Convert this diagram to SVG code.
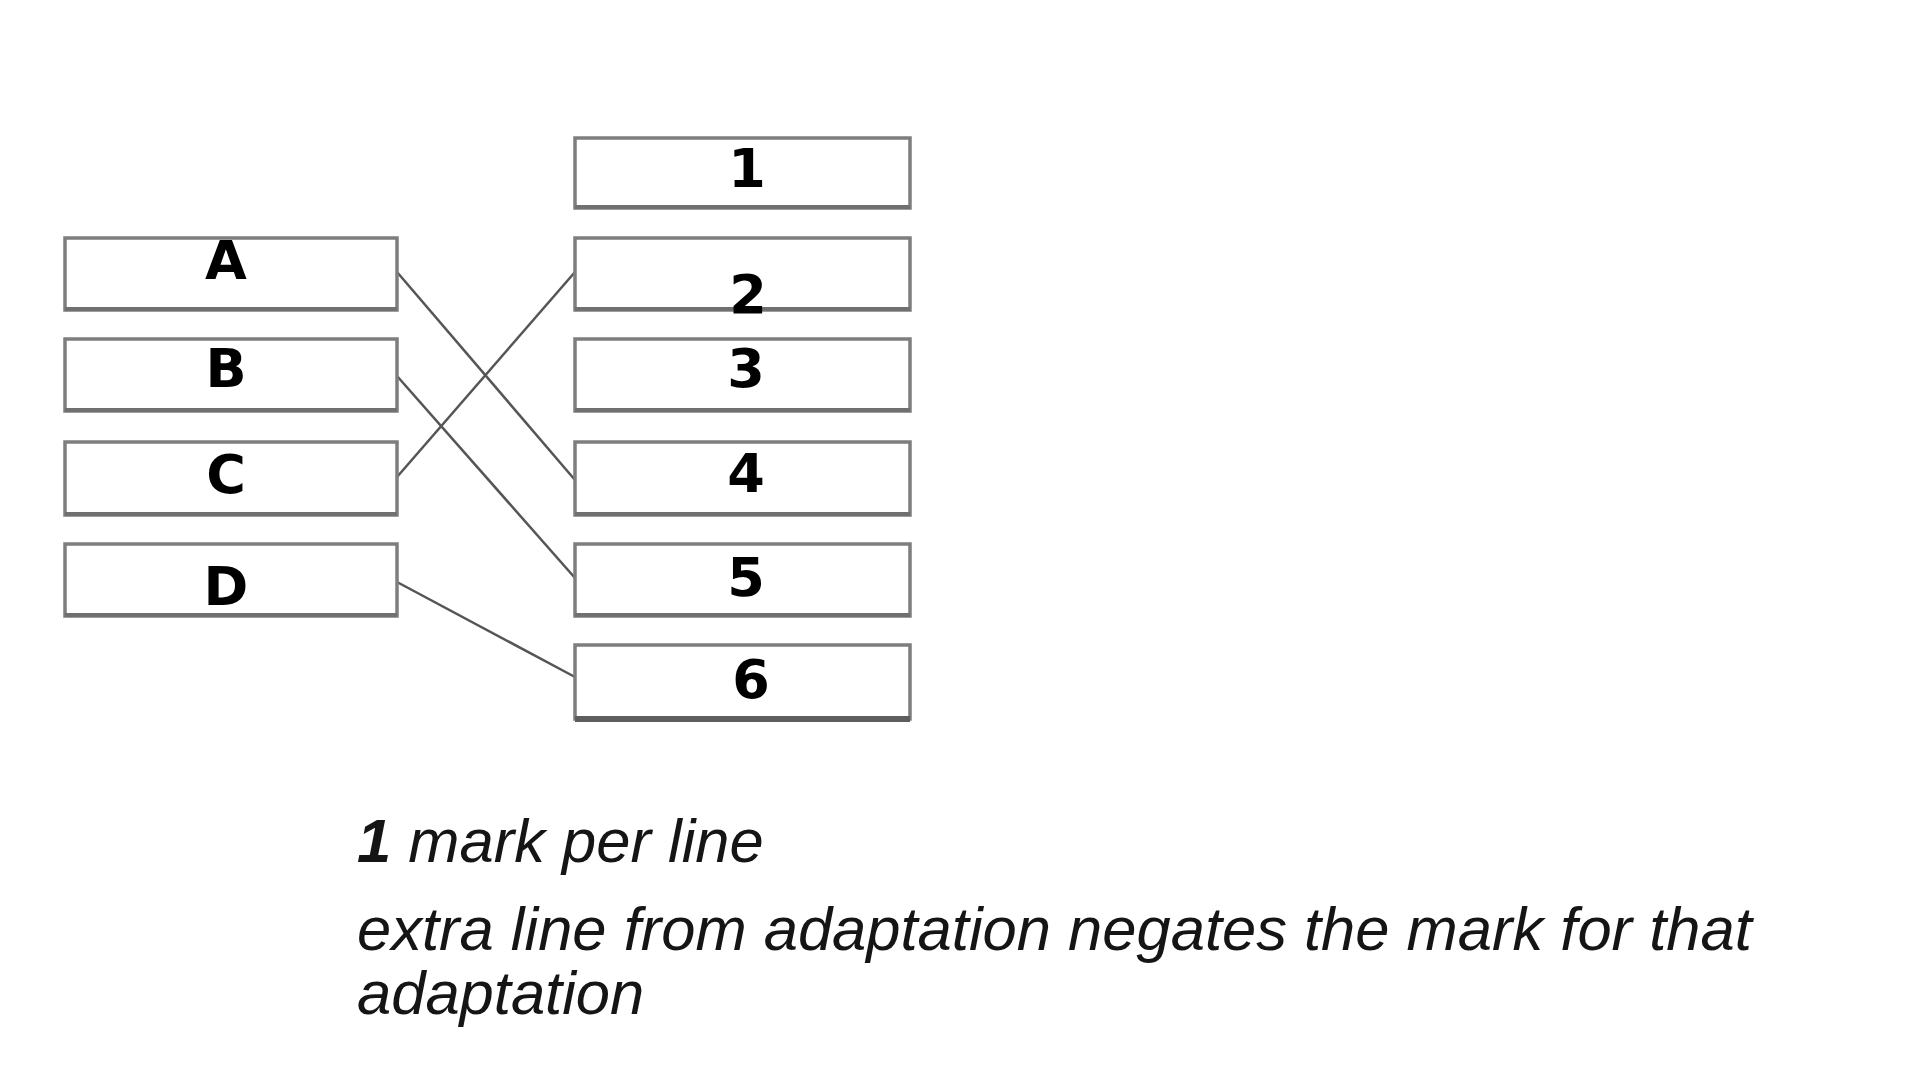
<svg xmlns="http://www.w3.org/2000/svg" width="1920" height="1080" viewBox="0 0 1920 1080">
<style>
.box{fill:#fff;stroke:#7e7e7e;stroke-width:3.5}
.shadow{stroke:#707070;stroke-width:4;fill:none}
.lbl{font-family:"DejaVu Sans",sans-serif;font-weight:bold;font-size:54px;fill:#000;text-anchor:middle}
.conn{stroke:#555;stroke-width:2.5;fill:none}
.note{font-family:"Liberation Sans",Arial,sans-serif;font-style:italic;font-size:61.5px;fill:#151515}
</style>
<rect width="1920" height="1080" fill="#fff"/>
<g id="connectors">
<line class="conn" x1="397" y1="272" x2="575" y2="480"/>
<line class="conn" x1="397" y1="376" x2="575" y2="578"/>
<line class="conn" x1="397" y1="477" x2="575" y2="272"/>
<line class="conn" x1="397" y1="582" x2="575" y2="677"/>
</g>
<g id="node-A"><rect class="box" x="65" y="238" width="332" height="72"/><line class="shadow" x1="65" y1="309" x2="397" y2="309"/><text class="lbl" x="226" y="279">A</text></g>
<g id="node-B"><rect class="box" x="65" y="339" width="332" height="72"/><line class="shadow" x1="65" y1="410" x2="397" y2="410"/><text class="lbl" x="226" y="387">B</text></g>
<g id="node-C"><rect class="box" x="65" y="442" width="332" height="73"/><line class="shadow" x1="65" y1="514" x2="397" y2="514"/><text class="lbl" x="226" y="493">C</text></g>
<g id="node-D"><rect class="box" x="65" y="544" width="332" height="72"/><line class="shadow" x1="65" y1="615" x2="397" y2="615"/><text class="lbl" x="226" y="605">D</text></g>
<g id="node-1"><rect class="box" x="575" y="138" width="335" height="70"/><line class="shadow" x1="575" y1="207" x2="910" y2="207"/><text class="lbl" x="747" y="187">1</text></g>
<g id="node-2"><rect class="box" x="575" y="238" width="335" height="72"/><line class="shadow" x1="575" y1="309" x2="910" y2="309"/><text class="lbl" x="748" y="313">2</text></g>
<g id="node-3"><rect class="box" x="575" y="339" width="335" height="72"/><line class="shadow" x1="575" y1="410" x2="910" y2="410"/><text class="lbl" x="746" y="387">3</text></g>
<g id="node-4"><rect class="box" x="575" y="442" width="335" height="73"/><line class="shadow" x1="575" y1="514" x2="910" y2="514"/><text class="lbl" x="746" y="492">4</text></g>
<g id="node-5"><rect class="box" x="575" y="544" width="335" height="72"/><line class="shadow" x1="575" y1="615" x2="910" y2="615"/><text class="lbl" x="746" y="596">5</text></g>
<g id="node-6"><rect class="box" x="575" y="645" width="335" height="74"/><line x1="575" y1="719" x2="910" y2="719" stroke="#5e5e5e" stroke-width="6"/><text class="lbl" x="751" y="698">6</text></g>
<g id="notes">
<text class="note" x="357" y="862"><tspan font-weight="bold">1</tspan> mark per line</text>
<text class="note" x="357" y="950">extra line from adaptation negates the mark for that</text>
<text class="note" x="357" y="1014">adaptation</text>
</g>
</svg>
